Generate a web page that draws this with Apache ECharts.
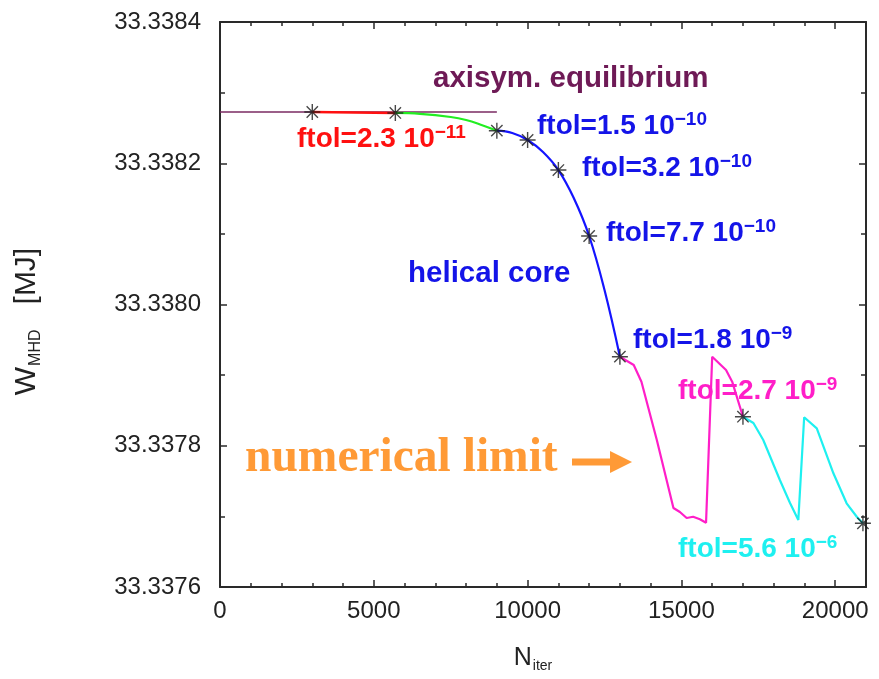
<!DOCTYPE html>
<html>
<head>
<meta charset="utf-8">
<script src="https://cdn.jsdelivr.net/npm/echarts@6/dist/echarts.min.js"></script>
<style>
  html, body { margin: 0; padding: 0; background: #ffffff; }
  #chart { width: 879px; height: 679px; }
</style>
</head>
<body>
<div id="chart"></div>
<script>
// Stored MHD energy W_MHD [MJ] versus iteration count N_iter, one array pair per convergence phase

// axisymmetric reference equilibrium
const axisymIter = [0, 9000];
const axisymW = [33.3382726, 33.3382726];

// ftol = 2.3e-11
const redIter = [3000, 5700];
const redW = [33.3382726, 33.3382712];

// transition towards the helical core
const greenIter = [5700, 6500, 7500, 8000, 8500, 9000];
const greenW = [33.3382712, 33.3382700, 33.3382655, 33.3382612, 33.3382542, 33.3382461];

// helical core branch (ftol 1.5e-10 ... 1.8e-9)
const blueIter = [9000, 9500, 10000, 10500, 11000, 11500, 12000, 12500, 13000];
const blueW = [33.3382461, 33.3382428, 33.3382329, 33.3382159, 33.3381904, 33.3381508, 33.3380970, 33.3380205, 33.3379261];

// ftol = 2.7e-9
const magentaIter = [13000, 13450, 13700, 14200, 14740, 14950, 15170, 15380, 15600, 15800, 16000, 16450, 16650, 17000];
const magentaW = [33.3379261, 33.3379143, 33.3378907, 33.3378081, 33.3377119, 33.3377062, 33.3376977, 33.3376995, 33.3376960, 33.3376910, 33.3379261, 33.3379073, 33.3378907, 33.3378411];

// ftol = 5.6e-6
const cyanIter = [17000, 17340, 17660, 18200, 18530, 18800, 18990, 19400, 19940, 20370, 20700, 20900];
const cyanW = [33.3378411, 33.3378322, 33.3378081, 33.3377515, 33.3377189, 33.3376949, 33.3378403, 33.3378247, 33.3377610, 33.3377185, 33.3376995, 33.3376902];

// converged snapshots marked with asterisks
const markIter = [3000, 5700, 9000, 10000, 11000, 12000, 13000, 17000, 20900];
const markW = [33.3382726, 33.3382712, 33.3382461, 33.3382329, 33.3381904, 33.3380970, 33.3379261, 33.3378411, 33.3376902];

// axis tick labels
const xTicks = [0, 5000, 10000, 15000, 20000];
const yTickLabels = ['33.3376', '33.3378', '33.3380', '33.3382', '33.3384'];

const pairs = (xs, ys) => xs.map((x, i) => [x, ys[i]]);

const SANS = "'Liberation Sans', Arial, Helvetica, sans-serif";
const SERIF = "'Liberation Serif', 'Times New Roman', serif";

const chart = echarts.init(document.getElementById('chart'), null, { renderer: 'canvas' });

const axisLineStyle = { color: '#2a2a2a', width: 2 };
const tickStyle = { color: '#2a2a2a', width: 1.5 };

function lineSeries(name, xs, ys, color, width, smooth, z) {
  return {
    name, type: 'line', data: pairs(xs, ys), showSymbol: false, symbol: 'none',
    smooth: smooth, z: z, silent: true, animation: false,
    lineStyle: { color, width }
  };
}

chart.setOption({
  animation: false,
  backgroundColor: '#ffffff',
  grid: { left: 220, right: 13, top: 22, bottom: 92, containLabel: false },
  xAxis: [{
    type: 'value', min: 0, max: 21000, interval: 5000,
    name: '{n|N}{s|iter}', nameLocation: 'middle', nameGap: 56,
    nameTextStyle: {
      padding: [0, 20, 0, 0],
      rich: {
        n: { fontFamily: SANS, fontSize: 25, color: '#222' },
        s: { fontFamily: SANS, fontSize: 14, color: '#222', verticalAlign: 'bottom', padding: [16, 0, 0, 1] }
      }
    },
    axisLine: { show: true, onZero: false, lineStyle: axisLineStyle },
    axisTick: { show: true, inside: true, length: 7, lineStyle: tickStyle },
    minorTick: { show: true, splitNumber: 5, length: 4, lineStyle: tickStyle },
    axisLabel: {
      fontFamily: SANS, fontSize: 24, color: '#222', margin: 12,
      formatter: v => (xTicks.indexOf(v) >= 0 ? String(v) : '')
    },
    splitLine: { show: false }
  }, {
    type: 'value', position: 'top', min: 0, max: 21000, interval: 5000,
    axisLine: { show: true, onZero: false, lineStyle: axisLineStyle },
    axisTick: { show: true, inside: true, length: 7, lineStyle: tickStyle },
    minorTick: { show: true, splitNumber: 5, length: 4, lineStyle: tickStyle },
    axisLabel: { show: false }, splitLine: { show: false }
  }],
  yAxis: [{
    type: 'value', min: 33.3376, max: 33.3384, interval: 0.0002,
    name: '{w|W}{s|MHD}{w|   [MJ]}', nameLocation: 'middle', nameGap: 176, nameRotate: 90,
    nameTextStyle: {
      padding: [0, 34, 0, 0],
      rich: {
        w: { fontFamily: SANS, fontSize: 30, color: '#222' },
        s: { fontFamily: SANS, fontSize: 16, color: '#222', verticalAlign: 'bottom', padding: [18, 0, 0, 1] }
      }
    },
    axisLine: { show: true, onZero: false, lineStyle: axisLineStyle },
    axisTick: { show: true, inside: true, length: 7, lineStyle: tickStyle },
    minorTick: { show: true, splitNumber: 2, length: 5, lineStyle: tickStyle },
    axisLabel: {
      fontFamily: SANS, fontSize: 24, color: '#222', margin: 19,
      formatter: v => {
        const s = v.toFixed(4);
        return yTickLabels.indexOf(s) >= 0 ? s : '';
      }
    },
    splitLine: { show: false }
  }, {
    type: 'value', position: 'right', min: 33.3376, max: 33.3384, interval: 0.0002,
    axisLine: { show: true, onZero: false, lineStyle: axisLineStyle },
    axisTick: { show: true, inside: true, length: 7, lineStyle: tickStyle },
    minorTick: { show: true, splitNumber: 2, length: 5, lineStyle: tickStyle },
    axisLabel: { show: false }, splitLine: { show: false }
  }],
  series: [
    lineSeries('axisym', axisymIter, axisymW, '#7a2a62', 1.6, false, 2),
    lineSeries('red', redIter, redW, '#ff1010', 2.4, false, 3),
    lineSeries('green', greenIter, greenW, '#22ee22', 2.2, 0.4, 3),
    lineSeries('blue', blueIter, blueW, '#1414ff', 2.2, 0.4, 3),
    lineSeries('magenta', magentaIter, magentaW, '#ff1ec8', 2.2, false, 3),
    lineSeries('cyan', cyanIter, cyanW, '#1ef0f0', 2.2, false, 3),
    {
      name: 'marks', type: 'scatter', data: pairs(markIter, markW), z: 5, silent: true,
      symbol: 'path://M0,-10L0,10M-10,0L10,0M-7.07,-7.07L7.07,7.07M-7.07,7.07L7.07,-7.07',
      symbolSize: 16,
      itemStyle: { color: 'rgba(0,0,0,0)', borderColor: '#1a1a1a', borderWidth: 1.4 }
    }
  ]
});

// Annotations, anchored in data coordinates (left edge, vertical centre of the text)
const ftolLabels = [
  { iter: 2503, w: 33.3382343, mant: '2.3', exp: '\u221211', color: '#ff1010' },
  { iter: 10306, w: 33.3382527, mant: '1.5', exp: '\u221210', color: '#1414e8' },
  { iter: 11769, w: 33.3381933, mant: '3.2', exp: '\u221210', color: '#1414e8' },
  { iter: 12549, w: 33.3381012, mant: '7.7', exp: '\u221210', color: '#1414e8' },
  { iter: 13427, w: 33.3379497, mant: '1.8', exp: '\u22129', color: '#1414e8' },
  { iter: 14889, w: 33.3378775, mant: '2.7', exp: '\u22129', color: '#ff1ec8' },
  { iter: 14889, w: 33.3376538, mant: '5.6', exp: '\u22126', color: '#1ef0f0' }
];
const plainLabels = [
  { iter: 6925, w: 33.3383193, text: 'axisym. equilibrium', color: '#6e1a56', size: 29.5, family: SANS },
  { iter: 6112, w: 33.3380432, text: 'helical core', color: '#1414e8', size: 29.5, family: SANS },
  { iter: 813, w: 33.3377812, text: 'numerical limit', color: '#ff9a36', size: 47.5, family: SERIF }
];
const arrowFrom = [11443, 33.337777];
const arrowTo = [13394, 33.337777];

const graphics = [];
ftolLabels.forEach(l => {
  const p = chart.convertToPixel({ xAxisIndex: 0, yAxisIndex: 0 }, [l.iter, l.w]);
  graphics.push({
    type: 'text', x: p[0], y: p[1], z: 10, silent: true,
    style: {
      text: '{m|ftol=' + l.mant + ' 10}{e|' + l.exp + '}',
      verticalAlign: 'middle', align: 'left',
      rich: {
        m: { fontFamily: SANS, fontSize: 28, fontWeight: 'bold', fill: l.color, color: l.color, lineHeight: 32 },
        e: { fontFamily: SANS, fontSize: 19, fontWeight: 'bold', fill: l.color, color: l.color, verticalAlign: 'top', lineHeight: 19 }
      }
    }
  });
});
plainLabels.forEach(l => {
  const p = chart.convertToPixel({ xAxisIndex: 0, yAxisIndex: 0 }, [l.iter, l.w]);
  graphics.push({
    type: 'text', x: p[0], y: p[1], z: 10, silent: true,
    style: {
      text: l.text, fill: l.color, verticalAlign: 'middle', align: 'left',
      font: 'bold ' + l.size + 'px ' + l.family
    }
  });
});
{
  const a = chart.convertToPixel({ xAxisIndex: 0, yAxisIndex: 0 }, arrowFrom);
  const b = chart.convertToPixel({ xAxisIndex: 0, yAxisIndex: 0 }, arrowTo);
  const y = a[1], head = 22, shaft = 3.5, half = 11;
  graphics.push({
    type: 'polygon', z: 10, silent: true,
    shape: { points: [
      [a[0], y - shaft], [b[0] - head, y - shaft], [b[0] - head, y - half],
      [b[0], y], [b[0] - head, y + half], [b[0] - head, y + shaft], [a[0], y + shaft]
    ] },
    style: { fill: '#ff9a36' }
  });
}
chart.setOption({ graphic: graphics });
</script>
</body>
</html>
